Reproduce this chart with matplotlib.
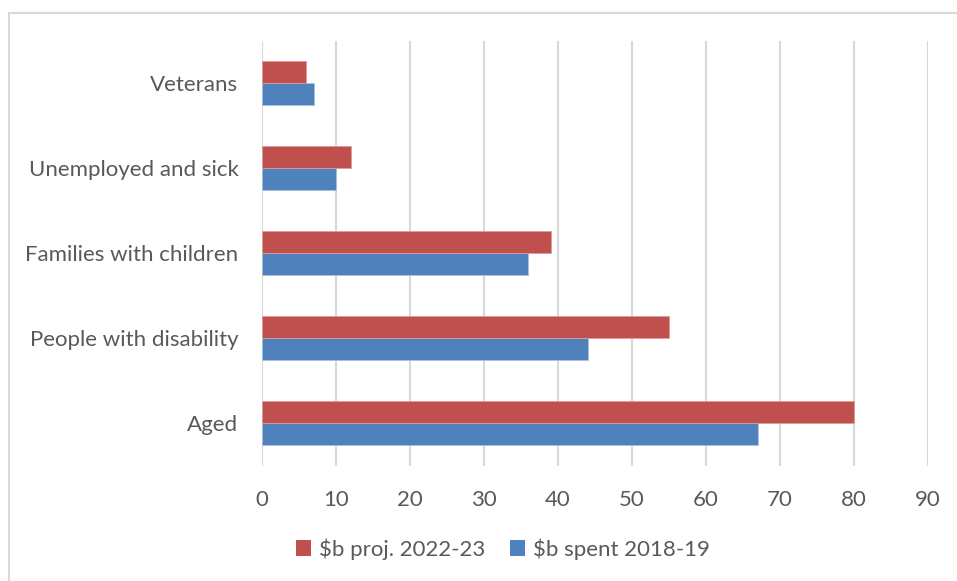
import numpy as np
import matplotlib.pyplot as plt
from matplotlib.lines import Line2D

plt.rcParams['font.family'] = ['Lato', 'DejaVu Sans']

categories = ['Aged', 'People with disability', 'Families with children',
              'Unemployed and sick', 'Veterans']
proj_2022 = [80, 55, 39, 12, 6]
spent_2018 = [67, 44, 36, 10, 7]

red = '#c0504d'
blue = '#4f81bd'
grey_text = '#595959'

W, H = 957, 581
fig = plt.figure(figsize=(W / 100, H / 100), dpi=100)
ax = fig.add_axes([262 / W, 1 - 465.5 / H, (928 - 262) / W, (465.5 - 40.5) / H])

y = np.arange(len(categories))
h = 0.26
ax.barh(y - h / 2, spent_2018, height=h, color=blue, label='$b spent 2018-19',
        edgecolor='#a9c0de', linewidth=0.6, zorder=3)
ax.barh(y + h / 2, proj_2022, height=h, color=red, label='$b proj. 2022-23',
        edgecolor='#dc9c9a', linewidth=0.6, zorder=3)

ax.set_xlim(0, 90)
ax.set_ylim(-0.5, len(categories) - 0.5)
ax.set_xticks(np.arange(0, 91, 10))
ax.set_yticks(y)
ax.set_yticklabels(categories)
ax.grid(axis='x', color='#d9d9d9', linewidth=1.5, zorder=0)
for s in ax.spines.values():
    s.set_visible(False)
ax.tick_params(axis='both', length=0, labelsize=16, colors=grey_text)
ax.tick_params(axis='x', pad=18)
ax.tick_params(axis='y', pad=17)

handles, labels = ax.get_legend_handles_labels()
leg = fig.legend(handles[::-1], labels[::-1], loc='center', ncol=2,
                 bbox_to_anchor=(503 / W, 1 - 549 / H), frameon=False,
                 fontsize=16, handlelength=0.7, handleheight=0.7,
                 handletextpad=0.35, columnspacing=1.1)
for t in leg.get_texts():
    t.set_color(grey_text)
for p in leg.get_patches():
    p.set_edgecolor('none')

# chart area border
fig.add_artist(Line2D([8.5 / W, 1], [1 - 13 / H] * 2, color='#d9d9d9', linewidth=1.5))
fig.add_artist(Line2D([8.5 / W] * 2, [0, 1 - 13 / H], color='#d9d9d9', linewidth=1.5))

fig.savefig('out.png', dpi=100, facecolor='white')
